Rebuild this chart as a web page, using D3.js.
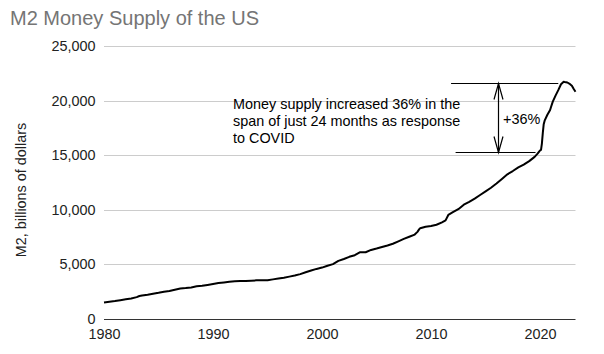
<!DOCTYPE html>
<html><head><meta charset="utf-8">
<script src="https://cdn.jsdelivr.net/npm/d3@7"></script>
<style>body{margin:0;background:#fff;} svg{display:block;font-family:Arial,"Liberation Sans",sans-serif;}</style>
</head><body><svg id="c" width="604" height="354"></svg>
<script>
const dates = ["1980-01","1980-07","1981-01","1981-07","1982-01","1982-07","1983-01","1983-04","1983-07","1984-01","1984-07","1985-01","1985-07","1986-01","1986-07","1987-01","1987-07","1988-01","1988-07","1989-01","1989-07","1990-01","1990-07","1991-01","1991-07","1992-01","1992-07","1993-01","1993-07","1994-01","1994-07","1995-01","1995-07","1996-01","1996-07","1997-01","1997-07","1998-01","1998-07","1999-01","1999-07","2000-01","2000-07","2001-01","2001-07","2002-01","2002-07","2003-01","2003-07","2004-01","2004-07","2005-01","2005-07","2006-01","2006-07","2007-01","2007-07","2008-01","2008-07","2008-10","2008-12","2009-01","2009-07","2010-01","2010-07","2011-01","2011-05","2011-08","2012-01","2012-07","2013-01","2013-07","2014-01","2014-07","2015-01","2015-07","2016-01","2016-07","2017-01","2017-07","2018-01","2018-07","2019-01","2019-07","2019-10","2020-01","2020-02","2020-03","2020-04","2020-05","2020-06","2020-09","2020-12","2021-01","2021-03","2021-06","2021-09","2021-12","2022-03","2022-04","2022-07","2022-10","2022-12","2023-02","2023-04"];
const m2 = [1474,1540,1600,1680,1765,1840,1960,2060,2110,2180,2270,2360,2460,2520,2640,2750,2790,2850,2950,3000,3080,3170,3250,3310,3370,3420,3440,3430,3460,3500,3500,3500,3590,3660,3740,3840,3940,4070,4240,4410,4550,4670,4840,4990,5290,5460,5660,5810,6080,6080,6290,6420,6560,6700,6860,7080,7300,7500,7700,7950,8200,8280,8420,8480,8600,8820,9000,9500,9750,10030,10440,10700,11000,11330,11660,12000,12380,12800,13230,13530,13860,14120,14440,14830,15100,15430,15470,16050,17030,17830,18150,18690,19130,19400,19900,20450,20950,21490,21720,21700,21650,21500,21360,21050,20800];
const xTicks = [1980,1990,2000,2010,2020];
const yTicks = [0,5000,10000,15000,20000,25000];
const title = "M2 Money Supply of the US";
const yTitle = "M2, billions of dollars";
const noteLines = ["Money supply increased 36% in the","span of just 24 months as response","to COVID"];
const pctLabel = "+36%";
const annTop = 21580, annBottom = 15280;

const parse = d3.timeParse("%Y-%m");
const data = dates.map((d,i)=>({date:parse(d), v:m2[i]}));
const svg = d3.select("#c");
const x = d3.scaleTime().domain([new Date(1980,0,1), data[data.length-1].date]).range([104,575.5]);
const y = d3.scaleLinear().domain([0,25000]).range([318.5,46]);

svg.append("text").attr("x",10).attr("y",24.5).attr("font-size",20).attr("fill","#757575").text(title);

// gridlines
svg.append("g").selectAll("line").data(yTicks.filter(t=>t>0)).join("line")
  .attr("x1",104).attr("x2",575.5).attr("y1",d=>Math.round(y(d))+0.5).attr("y2",d=>Math.round(y(d))+0.5)
  .attr("stroke","#cccccc").attr("stroke-width",1);
// y labels
svg.append("g").selectAll("text").data(yTicks).join("text")
  .attr("x",95.5).attr("y",d=>y(d)+5).attr("text-anchor","end").attr("font-size",14.4).attr("fill","#222")
  .text(d=>d3.format(",")(d));
// y title
svg.append("text").attr("transform","translate(25.5,190) rotate(-90)").attr("text-anchor","middle")
  .attr("font-size",14.4).attr("fill","#222").text(yTitle);

// x axis
const xAxis = d3.axisBottom(x).tickValues(xTicks.map(t=>new Date(t,0,1))).tickSize(0).tickPadding(9).tickFormat(d3.timeFormat("%Y"));
const gx = svg.append("g").attr("transform",`translate(0,${Math.round(y(0))+0.5})`).call(xAxis);
gx.select(".domain").attr("stroke","#333").attr("d",`M104,0H575.5`);
gx.selectAll("text").attr("font-size",14.4).attr("fill","#222").attr("font-family","Arial,'Liberation Sans',sans-serif");

// line
svg.append("path").datum(data).attr("fill","none").attr("stroke","#000").attr("stroke-width",2)
  .attr("stroke-linejoin","round")
  .attr("d",d3.line().x(d=>x(d.date)).y(d=>y(d.v)));

// annotation
const yt = Math.round(y(annTop))+0.5, yb = Math.round(y(annBottom))+0.5;
const xa = Math.round(x(new Date(2016,2,1)))+0.5;
const ann = svg.append("g").attr("stroke","#000").attr("stroke-width",1.2).attr("fill","none");
ann.append("line").attr("x1",x(new Date(2011,10,1))).attr("x2",x(new Date(2021,8,1))).attr("y1",yt).attr("y2",yt);
ann.append("line").attr("x1",x(new Date(2012,3,1))).attr("x2",x(new Date(2019,7,1))).attr("y1",yb).attr("y2",yb);
ann.append("line").attr("x1",xa).attr("x2",xa).attr("y1",yt).attr("y2",yb);
ann.append("path").attr("d",`M${xa-4.5},${yt+16}L${xa},${yt}L${xa+4.5},${yt+16}`);
ann.append("path").attr("d",`M${xa-4.5},${yb-16}L${xa},${yb}L${xa+4.5},${yb-16}`);
svg.append("text").attr("x",503).attr("y",124).attr("font-size",14.4).attr("fill","#000").text(pctLabel);
svg.append("g").selectAll("text").data(noteLines).join("text")
  .attr("x",233).attr("y",(d,i)=>109+i*17).attr("font-size",14.4).attr("fill","#000").text(d=>d);
</script></body></html>
